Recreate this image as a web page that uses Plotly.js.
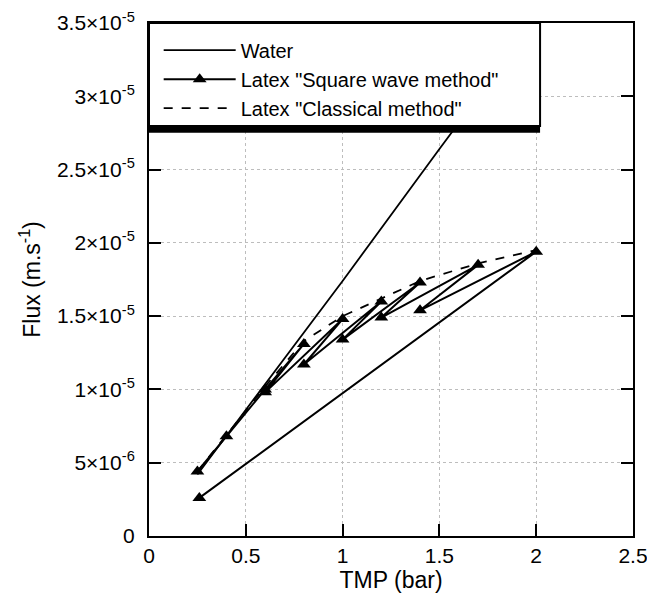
<!DOCTYPE html>
<html>
<head>
<meta charset="utf-8">
<script src="https://cdn.plot.ly/plotly-3.0.1.min.js"></script>
<style>html,body{margin:0;padding:0;background:#fff;}#chart{width:647px;height:595px;}</style>
</head>
<body>
<div id="chart"></div>
<script>
// Water
var waterTMP = [0.25, 0.6, 1.0, 1.5, 2.0];
var waterFlux = [4.2e-6, 10.4e-6, 17.4e-6, 26.4e-6, 35.3e-6];
// Latex "Square wave method"
var squareTMP = [0.25, 0.40, 0.60, 0.80, 0.60, 1.00, 0.80, 1.20, 1.00, 1.40, 1.20, 1.70, 1.40, 2.00, 0.26];
var squareFlux = [4.4e-6, 6.8e-6, 10.0e-6, 13.1e-6, 9.8e-6, 14.8e-6, 11.7e-6, 16.0e-6, 13.4e-6, 17.3e-6, 14.9e-6, 18.5e-6, 15.4e-6, 19.4e-6, 2.6e-6];
// Latex "Classical method"
var classicTMP = [0.25, 0.40, 0.60, 0.80, 1.00, 1.20, 1.40, 1.70, 2.00];
var classicFlux = [4.4e-6, 6.9e-6, 10.2e-6, 13.3e-6, 15.0e-6, 16.2e-6, 17.4e-6, 18.6e-6, 19.5e-6];
// Ticks
var xTickVals = [0, 0.5, 1, 1.5, 2, 2.5];
var xTickText = ["0", "0.5", "1", "1.5", "2", "2.5"];
var yTickVals = [0, 5e-6, 1e-5, 1.5e-5, 2e-5, 2.5e-5, 3e-5, 3.5e-5];
var yTickText = ["0", "5×10<sup>-6</sup>", "1×10<sup>-5</sup>", "1.5×10<sup>-5</sup>", "2×10<sup>-5</sup>", "2.5×10<sup>-5</sup>", "3×10<sup>-5</sup>", "3.5×10<sup>-5</sup>"];

var traces = [
  {x: waterTMP, y: waterFlux, name: 'Water', mode: 'lines',
   line: {color: '#000', width: 1.8}},
  {x: squareTMP, y: squareFlux, name: 'Latex "Square wave method"', mode: 'lines+markers',
   line: {color: '#000', width: 2}, marker: {symbol: 'triangle-up', size: 12, color: '#000'}},
  {x: classicTMP, y: classicFlux, name: 'Latex "Classical method"', mode: 'lines',
   line: {color: '#000', width: 1.8, dash: 'dash'}}
];

var font = 'Liberation Sans, Arial, sans-serif';
var layout = {
  width: 647, height: 595,
  margin: {l: 148.5, r: 14, t: 23, b: 59},
  paper_bgcolor: '#fff', plot_bgcolor: '#fff',
  font: {family: font, size: 21, color: '#000'},
  showlegend: true,
  legend: {x: 0.02, y: 0.985, xanchor: 'left', yanchor: 'top', bgcolor: 'rgba(0,0,0,0)', borderwidth: 0,
           itemwidth: 72, traceorder: 'normal', font: {family: font, size: 20, color: '#000'}},
  xaxis: {range: [0, 2.5], tickvals: xTickVals, ticktext: xTickText, ticks: 'inside', ticklen: 12, tickwidth: 2,
          tickcolor: '#000', showline: true, linecolor: '#000', linewidth: 2, mirror: 'ticks',
          showgrid: true, gridcolor: '#bdbdbd', gridwidth: 1, griddash: 'dot', zeroline: false,
          ticklabeloverflow: 'allow', tickfont: {family: font, size: 21},
          title: {text: 'TMP (bar)', font: {family: font, size: 23}, standoff: 4}},
  yaxis: {range: [0, 3.5e-5], tickvals: yTickVals, ticktext: yTickText, ticks: 'inside', ticklen: 12, tickwidth: 2,
          tickcolor: '#000', showline: true, linecolor: '#000', linewidth: 2, mirror: 'ticks',
          showgrid: true, gridcolor: '#bdbdbd', gridwidth: 1, griddash: 'dot', zeroline: false,
          ticklabelstandoff: 8, tickfont: {family: font, size: 21},
          title: {text: 'Flux (m.s<sup>-1</sup>)', font: {family: font, size: 23}, standoff: 10}},
  shapes: [
    {type: 'rect', xref: 'paper', yref: 'paper', x0: 0, x1: 0.808, y0: 0.786, y1: 0.799, layer: 'above',
     fillcolor: '#000', line: {width: 0}},
    {type: 'rect', xref: 'paper', yref: 'paper', x0: 0, x1: 0.808, y0: 0.799, y1: 1, layer: 'above',
     fillcolor: '#fff', line: {color: '#000', width: 2}}
  ]
};

Plotly.newPlot('chart', traces, layout, {displayModeBar: false, staticPlot: true});
</script>
</body>
</html>
